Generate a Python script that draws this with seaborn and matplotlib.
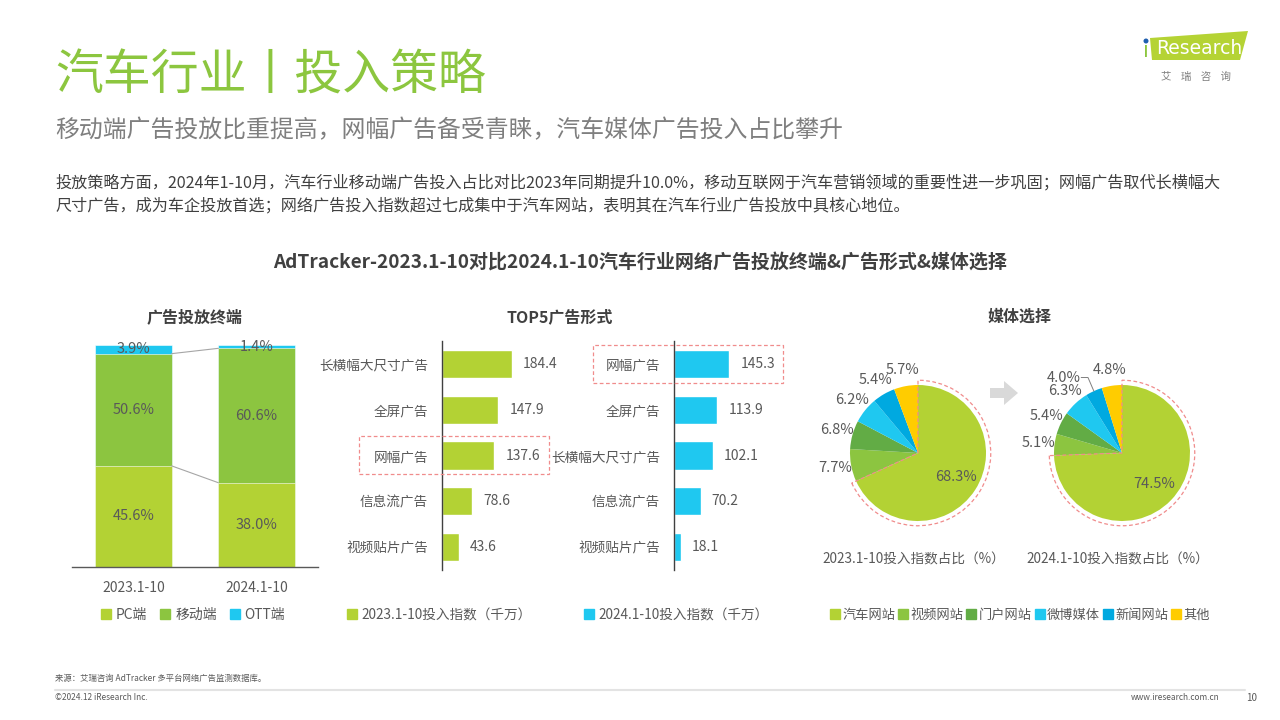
import numpy as np
import pandas as pd
import matplotlib
matplotlib.use("Agg")
import matplotlib.pyplot as plt
import seaborn as sns
from matplotlib.patches import Polygon, Rectangle, Wedge
from matplotlib.lines import Line2D

# ---------------- data ----------------
periods = ["2023.1-10", "2024.1-10"]
pc_share = [45.6, 38.0]
mobile_share = [50.6, 60.6]
ott_share = [3.9, 1.4]
terminal_names = ["PC端", "移动端", "OTT端"]

forms_2023 = ["长横幅大尺寸广告", "全屏广告", "网幅广告", "信息流广告", "视频贴片广告"]
index_2023 = [184.4, 147.9, 137.6, 78.6, 43.6]
forms_2024 = ["网幅广告", "全屏广告", "长横幅大尺寸广告", "信息流广告", "视频贴片广告"]
index_2024 = [145.3, 113.9, 102.1, 70.2, 18.1]
bar_legend = ["2023.1-10投入指数（千万）", "2024.1-10投入指数（千万）"]

media = ["汽车网站", "视频网站", "门户网站", "微博媒体", "新闻网站", "其他"]
media_2023 = [68.3, 7.7, 6.8, 6.2, 5.4, 5.7]
media_2024 = [74.5, 5.1, 5.4, 6.3, 4.0, 4.8]
pie_captions = ["2023.1-10投入指数占比（%）", "2024.1-10投入指数占比（%）"]

# ---------------- style ----------------
sns.set_theme(style="white")
plt.rcParams["font.family"] = ["Noto Sans CJK SC", "DejaVu Sans"]
plt.rcParams["axes.unicode_minus"] = False

C_PC = "#B3D234"
C_MOB = "#8CC540"
C_OTT = "#1FC8F0"
pie_colors = ["#B3D234", "#8CC540", "#62AC45", "#1FC8F0", "#00A9E0", "#FFCC00"]
TXT = "#595959"
PINK = "#F08C8C"

W, H = 1280, 720
fig = plt.figure(figsize=(12.8, 7.2), dpi=100)


def fx(px):
    return px / W


def fy(py):
    return 1 - py / H


def rect(l, t, r, b):
    return [fx(l), fy(b), (r - l) / W, (b - t) / H]


# ---------------- header ----------------
fig.text(fx(55), fy(76), "汽车行业丨投入策略", fontsize=34.5, color="#8CC63F", va="center", ha="left")
fig.text(fx(55), fy(131), "移动端广告投放比重提高，网幅广告备受青睐，汽车媒体广告投入占比攀升",
         fontsize=17.2, color="#7F7F7F", va="center", ha="left")
fig.text(fx(55), fy(183),
         "投放策略方面，2024年1-10月，汽车行业移动端广告投入占比对比2023年同期提升10.0%，移动互联网于汽车营销领域的重要性进一步巩固；网幅广告取代长横幅大",
         fontsize=11.6, color="#404040", va="center", ha="left")
fig.text(fx(55), fy(206),
         "尺寸广告，成为车企投放首选；网络广告投入指数超过七成集中于汽车网站，表明其在汽车行业广告投放中具核心地位。",
         fontsize=11.6, color="#404040", va="center", ha="left")

# logo
fig.patches.append(Polygon([(fx(1150), fy(38)), (fx(1248), fy(31)), (fx(1240), fy(60)), (fx(1152), fy(60))],
                           closed=True, facecolor="#B5D334", edgecolor="none", transform=fig.transFigure))
fig.text(fx(1143), fy(51), "ı", fontsize=15, color="#8CC63F", family="DejaVu Sans", va="center", ha="left")
fig.patches.append(matplotlib.patches.Ellipse((fx(1146), fy(41)), 5 / W, 5 / H, facecolor="#1F5FAF",
                                              edgecolor="none", transform=fig.transFigure))
fig.text(fx(1156), fy(49), "Research", fontsize=13.5, color="white", family="DejaVu Sans", va="center", ha="left")
fig.text(fx(1196), fy(77), "艾    瑞    咨    询", fontsize=7.5, color="#7F7F7F", va="center", ha="center")

# chart title
fig.text(fx(640), fy(263), "AdTracker-2023.1-10对比2024.1-10汽车行业网络广告投放终端&广告形式&媒体选择",
         fontsize=13.7, fontweight="bold", color="#404040", va="center", ha="center")
fig.text(fx(195), fy(317), "广告投放终端", fontsize=11.5, fontweight="bold", color="#404040", ha="center", va="center")
fig.text(fx(560), fy(317), "TOP5广告形式", fontsize=11.5, fontweight="bold", color="#404040", ha="center", va="center")
fig.text(fx(1020), fy(317), "媒体选择", fontsize=11.5, fontweight="bold", color="#404040", ha="center", va="center")

# ---------------- stacked bar ----------------
ax_s = fig.add_axes(rect(72, 345, 318, 567))
df_t = pd.DataFrame({"period": periods, "PC": pc_share, "mobile": mobile_share, "OTT": ott_share})
df_t["cum_mob"] = df_t["PC"] + df_t["mobile"]
df_t["cum_ott"] = df_t["cum_mob"] + df_t["OTT"]
bw = 0.62
for col, color in [("cum_ott", C_OTT), ("cum_mob", C_MOB), ("PC", C_PC)]:
    sns.barplot(data=df_t, x="period", y=col, color=color, saturation=1, width=bw, ax=ax_s,
                edgecolor="white", linewidth=0.4)
ax_s.set_xlim(-0.5, 1.5)
ax_s.set_ylim(0, df_t["cum_ott"].max())
ax_s.set_xlabel("")
ax_s.set_ylabel("")
ax_s.set_yticks([])
for s in ["top", "right", "left"]:
    ax_s.spines[s].set_visible(False)
ax_s.spines["bottom"].set_color("#595959")
ax_s.spines["bottom"].set_linewidth(1.0)
ax_s.tick_params(axis="x", length=0, pad=10, labelsize=10, labelcolor=TXT)
for i in range(len(periods)):
    pc, mob, ott = df_t.loc[i, "PC"], df_t.loc[i, "mobile"], df_t.loc[i, "OTT"]
    ax_s.text(i, pc / 2, f"{pc:.1f}%", ha="center", va="center", fontsize=10.5, color=TXT)
    ax_s.text(i, pc + mob / 2, f"{mob:.1f}%", ha="center", va="center", fontsize=10.5, color=TXT)
    ax_s.text(i, pc + mob + ott / 2, f"{ott:.1f}%", ha="center", va="center", fontsize=10.5, color=TXT)
for col in ["PC", "cum_mob"]:
    ax_s.plot([0 + bw / 2, 1 - bw / 2], [df_t.loc[0, col], df_t.loc[1, col]], color="#A6A6A6", lw=0.8)

h_term = [Line2D([], [], marker="s", ls="", color=c, markersize=7) for c in [C_PC, C_MOB, C_OTT]]
fig.legend(h_term, terminal_names, loc="center", bbox_to_anchor=(fx(193), fy(615)), ncol=3, frameon=False,
           fontsize=10, handlelength=0.8, handletextpad=0.3, columnspacing=0.9, labelcolor=TXT)

# ---------------- horizontal bars ----------------
XMAX = 395
for (l, cats, vals, color) in [(442, forms_2023, index_2023, C_PC), (674, forms_2024, index_2024, C_OTT)]:
    ax = fig.add_axes(rect(l, 341, l + 150, 570))
    sns.barplot(x=vals, y=cats, orient="h", color=color, saturation=1, width=0.62, ax=ax)
    ax.set_xlim(0, XMAX)
    ax.set_ylim(4.5, -0.5)
    ax.set_xlabel("")
    ax.set_ylabel("")
    ax.set_xticks([])
    for s in ["top", "right", "bottom"]:
        ax.spines[s].set_visible(False)
    ax.spines["left"].set_color("#404040")
    ax.spines["left"].set_linewidth(1.0)
    ax.tick_params(axis="y", length=0, pad=10, labelsize=9.8, labelcolor=TXT)
    ax.bar_label(ax.containers[0], fmt="%.1f", padding=8, fontsize=10, color=TXT)

for (l, t, r, b) in [(359, 436, 549, 474), (593, 345, 783, 383)]:
    fig.patches.append(Rectangle((fx(l), fy(b)), (r - l) / W, (b - t) / H, fill=False, edgecolor=PINK,
                                 linestyle=(0, (3, 2)), linewidth=0.9, transform=fig.transFigure))

h_bar = [Line2D([], [], marker="s", ls="", color=c, markersize=7) for c in [C_PC, C_OTT]]
fig.legend(h_bar, bar_legend, loc="center", bbox_to_anchor=(fx(558), fy(615)), ncol=2, frameon=False,
           fontsize=9.8, handlelength=0.8, handletextpad=0.3, columnspacing=3.8, labelcolor=TXT)

# ---------------- pies ----------------
R_PX = 68
HALF = 95
for k, (cx, vals, cap) in enumerate([(918, media_2023, pie_captions[0]), (1122, media_2024, pie_captions[1])]):
    cy = 453
    ax = fig.add_axes(rect(cx - HALF, cy - HALF, cx + HALF, cy + HALF))
    wedges, _ = ax.pie(vals, colors=pie_colors, startangle=90, counterclock=False, radius=1,
                       wedgeprops=dict(linewidth=0))
    lim = HALF / R_PX
    ax.set_xlim(-lim, lim)
    ax.set_ylim(-lim, lim)
    ax.set_aspect("equal")
    ax.axis("off")
    for j, (w, v) in enumerate(zip(wedges, vals)):
        mid = np.deg2rad((w.theta1 + w.theta2) / 2)
        if j == 0:
            ax.text(0.66 * np.cos(mid), 0.66 * np.sin(mid), f"{v:.1f}%", ha="center", va="center",
                    fontsize=10.5, color=TXT)
        else:
            r = 1.24
            x, y = r * np.cos(mid), r * np.sin(mid)
            if k == 1 and j == 4:
                x, y = -0.86, 1.11
                ax.plot([-0.6, -0.5, 1.0 * np.cos(mid)], [1.11, 1.11, 1.0 * np.sin(mid)], color="#7F7F7F", lw=0.7)
            ax.text(x, y, f"{v:.1f}%", ha="center", va="center", fontsize=10.5, color=TXT)
    w0 = wedges[0]
    ax.add_patch(Wedge((0, 0), 1.07, w0.theta1, w0.theta2, fill=False, edgecolor=PINK,
                       linestyle=(0, (3, 2)), linewidth=0.9))
    fig.text(fx(cx - 4), fy(559), cap, ha="center", va="center", fontsize=9.8, color=TXT)

# arrow between pies
fig.patches.append(Polygon([(fx(990), fy(388)), (fx(1004), fy(388)), (fx(1004), fy(381)), (fx(1018), fy(393)),
                            (fx(1004), fy(405)), (fx(1004), fy(398)), (fx(990), fy(398))], closed=True,
                           facecolor="#D9D9D9", edgecolor="none", transform=fig.transFigure))

h_pie = [Line2D([], [], marker="s", ls="", color=c, markersize=7) for c in pie_colors]
fig.legend(h_pie, media, loc="center", bbox_to_anchor=(fx(1020), fy(615)), ncol=6, frameon=False,
           fontsize=9.5, handlelength=0.7, handletextpad=0.2, columnspacing=0.25, labelcolor=TXT)

# ---------------- footer ----------------
fig.text(fx(55), fy(678), "来源：艾瑞咨询 AdTracker 多平台网络广告监测数据库。", fontsize=6, color="#595959",
         va="center", ha="left")
fig.lines.append(Line2D([fx(55), fx(1245)], [fy(690), fy(690)], color="#E3E3E3", lw=1.5,
                        transform=fig.transFigure))
fig.text(fx(55), fy(698), "©2024.12 iResearch Inc.", fontsize=6, color="#595959", va="center", ha="left")
fig.text(fx(1220), fy(698), "www.iresearch.com.cn", fontsize=6, color="#595959", va="center", ha="right")
fig.text(fx(1252), fy(698), "10", fontsize=7, color="#595959", va="center", ha="center")

fig.savefig("out.png", dpi=100)
